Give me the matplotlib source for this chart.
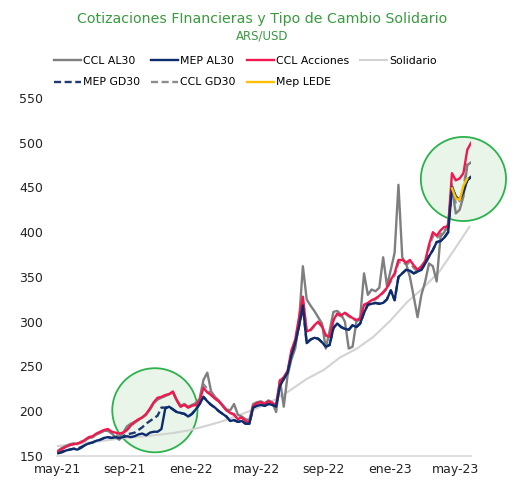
import pandas as pd
from matplotlib import pyplot as plt
from matplotlib.patches import Ellipse
import matplotlib.dates as mdates

# weekly quotes, ARS per USD
dates = pd.date_range("2021-05-03", periods=109, freq="7D")

ccl_acciones = [155, 158, 160, 162, 163, 164, 165, 168, 171, 172,
                175, 177, 179, 180, 177, 176, 175, 176, 179, 184,
                188, 191, 193, 197, 203, 210, 215, 216, 218, 219,
                222, 212, 205, 207, 204, 206, 207, 212, 226, 221,
                218, 214, 211, 206, 201, 198, 196, 191, 193, 189,
                187, 206, 209, 210, 208, 211, 209, 207, 234, 238,
                245, 268, 280, 305, 328, 289, 291, 296, 300, 295,
                285, 283, 302, 309, 307, 310, 307, 304, 302, 303,
                319, 321, 324, 326, 329, 333, 338, 347, 354, 369,
                369, 366, 369, 363, 358, 362, 368, 386, 400, 396,
                402, 406, 406, 466, 458, 460, 466, 492, 500]

ccl_al30 = [156, 159, 161, 163, 164, 163, 166, 167, 170, 171,
            174, 176, 178, 178, 175, 171, 168, 176, 183, 186,
            188, 190, 193, 196, 202, 209, 213, 215, 217, 219,
            221, 213, 206, 208, 205, 207, 209, 214, 235, 243,
            222, 216, 212, 207, 202, 201, 208, 196, 194, 191,
            190, 208, 210, 211, 209, 212, 210, 199, 235, 205,
            240, 258, 270, 300, 362, 325, 318, 312, 305, 298,
            270, 290, 311, 312, 308, 300, 270, 272, 300, 305,
            354, 330, 336, 334, 338, 372, 340, 358, 377, 453,
            372, 365, 350, 328, 305, 330, 345, 365, 362, 345,
            395, 400, 410, 450, 421, 425, 440, 475, 478]

mep_al30 = [153, 154, 156, 157, 158, 157, 159, 162, 164, 165,
            167, 168, 170, 171, 170, 171, 170, 171, 172, 171,
            172, 174, 175, 173, 176, 177, 177, 180, 203, 205,
            202, 199, 198, 197, 194, 197, 202, 208, 216, 211,
            207, 204, 200, 197, 194, 189, 190, 188, 189, 186,
            186, 204, 206, 207, 206, 208, 207, 205, 228, 236,
            243, 262, 276, 295, 318, 276, 280, 282, 281, 277,
            272, 274, 293, 298, 294, 292, 291, 296, 294, 298,
            310, 319, 320, 321, 320, 321, 325, 335, 324, 350,
            354, 358, 357, 354, 356, 358, 365, 373, 380, 389,
            390, 394, 400, 450, 440, 436, 445, 458, 462]

mep_gd30 = [153, 155, 156, 157, 158, 158, 160, 162, 164, 165,
            167, 168, 170, 171, 170, 171, 171, 172, 174, 175,
            176, 179, 182, 186, 189, 192, 195, 204, 204, 205,
            202, 199, 198, 197, 194, 197, 202, 208, 216, 211,
            207, 204, 200, 197, 194, 189, 190, 188, 189, 186,
            186, 204, 206, 207, 206, 208, 207, 205, 228, 236,
            243, 262, 276, 295, 318, 276, 280, 282, 281, 277,
            272, 274, 293, 298, 294, 292, 291, 296, 294, 298,
            310, 319, 320, 321, 320, 321, 325, 335, 324, 350,
            354, 358, 357, 354, 356, 358, 365, 373, 380, 389,
            390, 394, 400, 450, 440, 436, 445, 458, 462]

ccl_gd30 = [156, 158, 160, 162, 163, 164, 165, 167, 170, 171,
            174, 176, 178, 179, 176, 174, 172, 175, 179, 184,
            187, 190, 193, 196, 202, 209, 214, 215, 217, 219,
            221, 212, 205, 207, 204, 206, 208, 213, 230, 225,
            218, 214, 211, 206, 201, 198, 197, 192, 193, 189,
            188, 206, 209, 210, 208, 211, 209, 206, 233, 236,
            244, 265, 278, 302, 325, 289, 290, 295, 299, 294,
            284, 283, 301, 308, 306, 309, 306, 303, 301, 302,
            318, 320, 323, 325, 328, 332, 337, 345, 352, 366,
            367, 364, 366, 360, 356, 360, 366, 383, 396, 393,
            398, 402, 404, 455, 432, 435, 450, 476, 478]

lede_dates = pd.date_range("2023-04-24", periods=5, freq="7D")
mep_lede = [449, 438, 436, 452, 460]

sol_dates = pd.to_datetime([
    "2021-05-01", "2021-06-01", "2021-07-01", "2021-08-01", "2021-09-01",
    "2021-10-01", "2021-11-01", "2021-12-01", "2022-01-01", "2022-02-01",
    "2022-03-01", "2022-04-01", "2022-05-01", "2022-06-01", "2022-07-01",
    "2022-08-01", "2022-09-01", "2022-10-01", "2022-11-01", "2022-12-01",
    "2023-01-01", "2023-02-01", "2023-03-01", "2023-04-01", "2023-05-01",
    "2023-05-26"])
solidario = [161, 163, 165, 167.5, 170, 171.5, 173.5, 175.7, 179, 184,
             189, 196, 203, 212, 223, 236, 246, 260, 270, 283,
             301, 322, 337, 356, 383, 406]

green = "#3a9a3f"
fig = plt.figure(figsize=(5.24, 4.95), dpi=100)
ax = fig.add_axes([0.109, 0.079, 0.79, 0.723])

# highlight circles
for cx, cy in [("2021-10-27", 201), ("2023-05-15", 459.5)]:
    c = Ellipse((mdates.date2num(pd.Timestamp(cx)), cy), width=156, height=94,
                facecolor="#eaf5ea", edgecolor="#2bb24c", lw=1.3, zorder=1,
                clip_on=False)
    ax.add_patch(c)

ax.plot(dates, ccl_al30, color="#7f7f7f", lw=1.7, label="CCL AL30", zorder=3)
ax.plot(dates, mep_gd30, color="#1f3a73", lw=1.7, ls=(0, (3, 1.5)), label="MEP GD30", zorder=2)
ax.plot(dates, mep_al30, color="#0c2c6e", lw=1.7, label="MEP AL30", zorder=4)
ax.plot(dates, ccl_gd30, color="#8c8c8c", lw=1.7, ls=(0, (3, 1.5)), label="CCL GD30", zorder=2)
ax.plot(dates, ccl_acciones, color="#f0184f", lw=1.7, label="CCL Acciones", zorder=3)
ax.plot(lede_dates, mep_lede, color="#ffc000", lw=1.7, label="Mep LEDE", zorder=5)
ax.plot(sol_dates, solidario, color="#d3d3d3", lw=1.5, label="Solidario", zorder=2)

ax.set_ylim(150, 550)
ax.set_yticks(range(150, 551, 50))
ax.set_xlim(pd.Timestamp("2021-05-01"), pd.Timestamp("2023-05-29"))
ticks = pd.to_datetime(["2021-05-01", "2021-09-01", "2022-01-01", "2022-05-01",
                        "2022-09-01", "2023-01-01", "2023-05-01"])
ax.set_xticks(ticks)
ax.set_xticklabels(["may-21", "sep-21", "ene-22", "may-22", "sep-22", "ene-23", "may-23"])
ax.tick_params(length=0, labelsize=9, colors="#222222")
ax.tick_params(axis="y", pad=10)
ax.tick_params(axis="x", pad=5)
for s in ["top", "right", "left"]:
    ax.spines[s].set_visible(False)
ax.spines["bottom"].set_color("#d9d9d9")
ax.spines["bottom"].set_linewidth(1.2)

fig.text(0.5, 0.962, "Cotizaciones FInancieras y Tipo de Cambio Solidario",
         ha="center", va="center", color=green, fontsize=10.2)
fig.text(0.5, 0.928, "ARS/USD", ha="center", va="center", color=green, fontsize=8.5)

fig.legend(loc="upper left", bbox_to_anchor=(0.103, 0.887), ncol=4, frameon=False,
           fontsize=7.8, handlelength=2.5, handletextpad=0.2, columnspacing=1.0,
           labelspacing=1.05, borderpad=0, borderaxespad=0)

plt.savefig("out.png", dpi=100)
